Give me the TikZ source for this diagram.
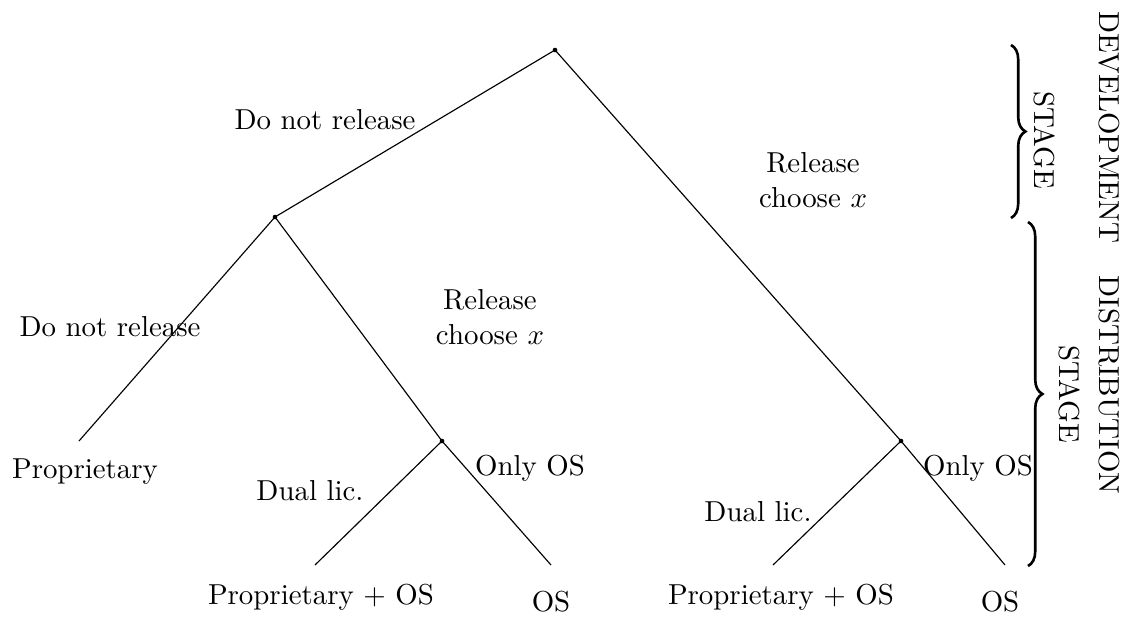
\documentclass[tikz,border=0pt]{standalone}
\usetikzlibrary{decorations.pathreplacing}
\begin{document}
\begin{tikzpicture}[x=1pt,y=-1pt,
  dotnode/.style={circle,fill=black,inner sep=0pt,minimum size=1.6pt},
  edge/.style={line width=0.4pt},
  lbl/.style={inner sep=0pt,align=center},
  stagebrace/.style={decorate,decoration={brace,amplitude=5pt},line width=0.9pt},
  stagetxt/.style={rotate=-90,inner sep=0pt}]
\def\s{0.3465}
\useasboundingbox (0,0) rectangle (1132*\s,621*\s);
% nodes
\node[dotnode] (root) at (555*\s,50*\s) {};
\node[dotnode] (l) at (275*\s,217*\s) {};
\node[dotnode] (r) at (901*\s,441*\s) {};
\node[dotnode] (lr) at (442*\s,441*\s) {};
\coordinate (ll) at (79*\s,441*\s);
\coordinate (lra) at (315*\s,565*\s);
\coordinate (lrb) at (551*\s,565*\s);
\coordinate (ra) at (773*\s,565*\s);
\coordinate (rb) at (1005*\s,565*\s);
% edges
\draw[edge] (root.center) -- (l.center);
\draw[edge] (root.center) -- (r.center);
\draw[edge] (l.center) -- (ll);
\draw[edge] (l.center) -- (lr.center);
\draw[edge] (lr.center) -- (lra);
\draw[edge] (lr.center) -- (lrb);
\draw[edge] (r.center) -- (ra);
\draw[edge] (r.center) -- (rb);
% labels
\node[lbl] (t1) at (325*\s,120*\s) {Do not release};
\node[lbl] (t2) at (813*\s,180*\s) {Release\\choose $x$};
\node[lbl] (t3) at (110*\s,327*\s) {Do not release};
\node[lbl] (t4) at (490*\s,317*\s) {Release\\choose $x$};
\node[lbl] (t5) at (85*\s,472*\s) {Proprietary};
\node[lbl] (t6) at (310*\s,491*\s) {Dual lic.};
\node[lbl] (t7) at (530*\s,468*\s) {Only OS};
\node[lbl] (t8) at (321*\s,597*\s) {Proprietary + OS};
\node[lbl] (t9) at (551*\s,602*\s) {OS};
\node[lbl] (t10) at (758*\s,512*\s) {Dual lic.};
\node[lbl] (t11) at (978*\s,468*\s) {Only OS};
\node[lbl] (t12) at (781*\s,597*\s) {Proprietary + OS};
\node[lbl] (t13) at (1000*\s,602*\s) {OS};
% braces
\coordinate (b1a) at (1011*\s,45*\s);
\coordinate (b1b) at (1011*\s,218*\s);
\coordinate (b2a) at (1028*\s,222*\s);
\coordinate (b2b) at (1028*\s,566*\s);
\draw[stagebrace] (b1a) -- (b1b);
\draw[stagebrace] (b2a) -- (b2b);
\node[stagetxt] (s1) at (1109*\s,127*\s) {DEVELOPMENT};
\node[stagetxt] (s2) at (1045*\s,140*\s) {STAGE};
\node[stagetxt] (s3) at (1109*\s,385*\s) {DISTRIBUTION};
\node[stagetxt] (s4) at (1070*\s,394*\s) {STAGE};
\end{tikzpicture}
\end{document}
